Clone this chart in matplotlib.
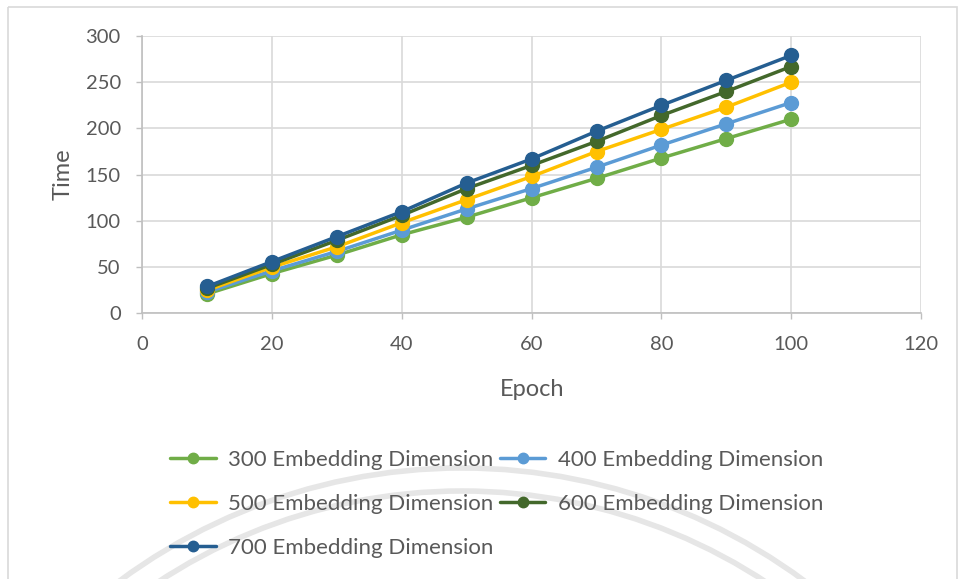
import numpy as np
import matplotlib.pyplot as plt
from matplotlib.patches import Arc, Rectangle

# data
epochs = [10, 20, 30, 40, 50, 60, 70, 80, 90, 100]
time_300 = [21, 43, 63, 85, 104, 125, 146, 168, 189, 210]
time_400 = [23, 46, 67, 90, 113, 135, 158, 182, 205, 228]
time_500 = [25, 50, 72, 98, 123, 148, 175, 199, 223, 250]
time_600 = [27, 53, 79, 106, 135, 160, 186, 214, 240, 267]
time_700 = [29, 56, 83, 110, 141, 167, 197, 225, 252, 279]

labels = ["300 Embedding Dimension", "400 Embedding Dimension",
          "500 Embedding Dimension", "600 Embedding Dimension",
          "700 Embedding Dimension"]
colors = ["#70AD47", "#5B9BD5", "#FFC000", "#43682B", "#255E91"]
series = [time_300, time_400, time_500, time_600, time_700]

plt.rcParams['font.family'] = ['Lato', 'DejaVu Sans']
TXT = "#595959"

W, H = 960, 579
fig = plt.figure(figsize=(W / 100, H / 100), dpi=100)

# background layer: frame + faint watermark arcs (pixel coords)
bg = fig.add_axes([0, 0, 1, 1], zorder=-5)
bg.set_xlim(0, W)
bg.set_ylim(H, 0)
bg.axis('off')
bg.add_patch(Rectangle((8, 7), 949, 600, fill=False, ec="#D9D9D9", lw=1.2))
for r in (576, 553):
    bg.add_patch(Arc((462, 1044), 2 * r, 2 * r, theta1=180, theta2=360,
                     color="#E6E6E6", lw=4))

ax = fig.add_axes([142.3 / W, 1 - 313.3 / H, (921 - 142.3) / W, (313.3 - 36) / H])
ax.patch.set_alpha(0)

handles = []
for ys, c, lab in zip(series, colors, labels):
    h, = ax.plot(epochs, ys, color=c, lw=2.5, marker='o', markersize=10,
                 label=lab, solid_capstyle='round')
    handles.append(h)

ax.set_xlim(0, 120)
ax.set_ylim(0, 300)
ax.set_xticks(np.arange(0, 121, 20))
ax.set_yticks(np.arange(0, 301, 50))
ax.grid(True, color="#D9D9D9", lw=1.2)
ax.set_axisbelow(True)
for s in ['top', 'right']:
    ax.spines[s].set_visible(False)
for s in ['left', 'bottom']:
    ax.spines[s].set_color("#BFBFBF")
    ax.spines[s].set_linewidth(1.2)
ax.tick_params(axis='both', colors="#BFBFBF", labelcolor=TXT, labelsize=14.5,
               length=4.5, width=1)
ax.tick_params(axis='y', pad=11)
ax.tick_params(axis='x', pad=12)

ax.set_xlabel("Epoch", fontsize=17, color=TXT)
ax.set_ylabel("Time", fontsize=17, color=TXT)
ax.xaxis.set_label_coords(0.5, -0.238)
ax.yaxis.set_label_coords(-0.088, 0.5)

# legend filled row by row like Excel: 300 400 / 500 600 / 700
order = [0, 2, 4, 1, 3]
fig.legend([handles[i] for i in order], [labels[i] for i in order],
           loc='upper left', bbox_to_anchor=(170 / W, 1 - 450 / H), ncol=2,
           frameon=False, fontsize=16, labelcolor=TXT, handlelength=2.05,
           handletextpad=0.55, columnspacing=0.3, labelspacing=1.08,
           borderpad=0, borderaxespad=0, markerscale=0.75)

fig.savefig("out.png", dpi=100)
